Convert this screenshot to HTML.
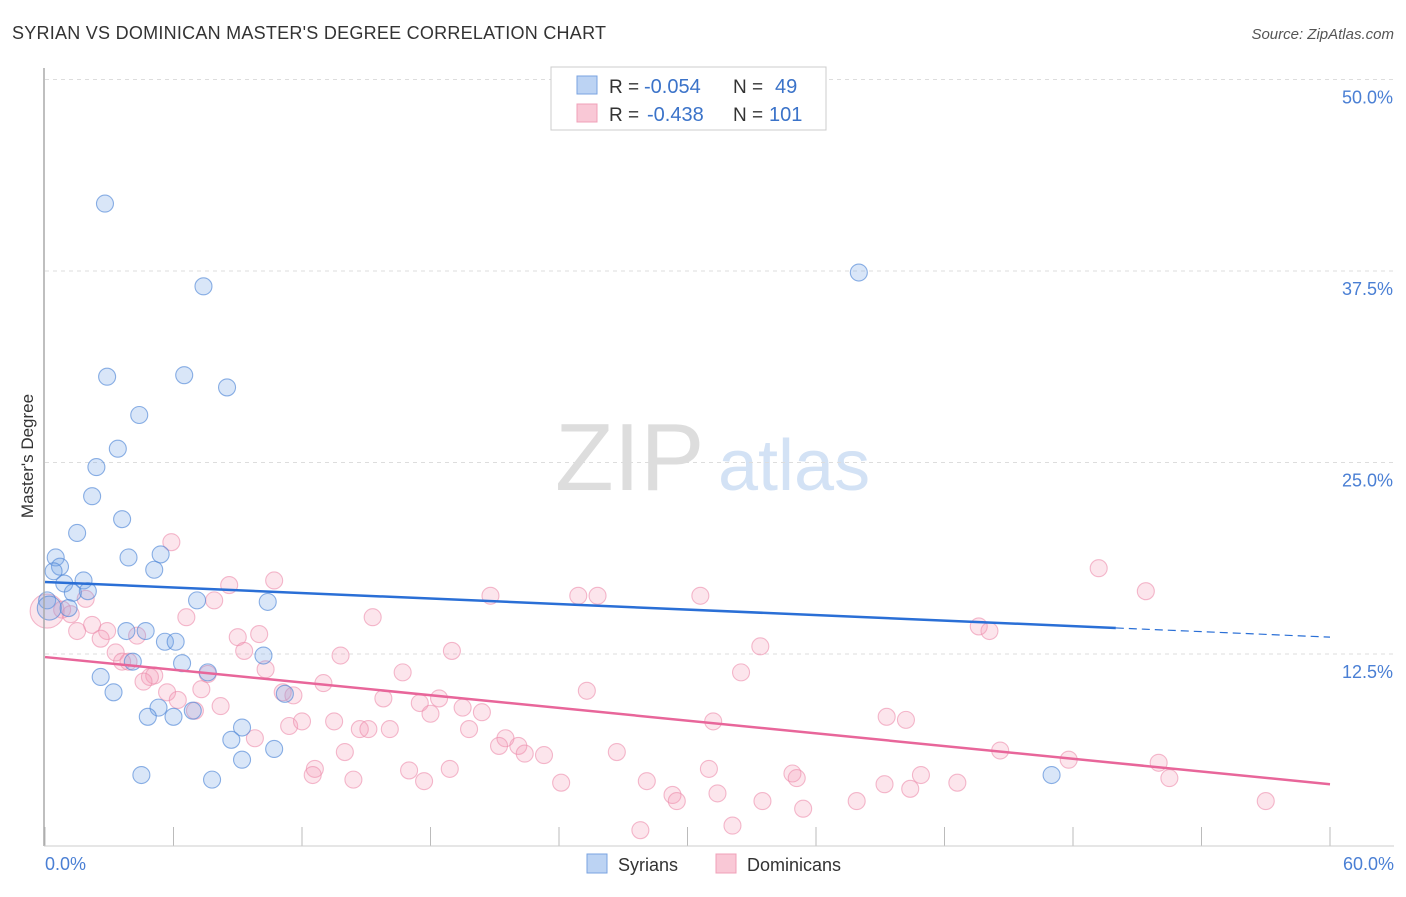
<!DOCTYPE html>
<html><head><meta charset="utf-8"><style>
body{margin:0;background:#fff;font-family:"Liberation Sans",sans-serif;}
svg text{font-family:"Liberation Sans",sans-serif;}
</style></head><body>
<svg width="1406" height="892" id="chart">
<text x="12" y="39" font-size="18" fill="#333" textLength="594">SYRIAN VS DOMINICAN MASTER'S DEGREE CORRELATION CHART</text>
<text x="1394" y="39" font-size="15" fill="#555" font-style="italic" text-anchor="end">Source: ZipAtlas.com</text>
<text x="0" y="0" font-size="17" fill="#333" text-anchor="middle" transform="translate(33,456) rotate(-90)">Master's Degree</text>
<g><text x="555" y="490" font-size="96" fill="#ddd" font-family="Liberation Serif,serif">ZIP</text><text x="718" y="490" font-size="72" fill="#d3e2f5">atlas</text></g>
<g id="grid"></g><g id="ticks"></g><g id="pts"></g><g id="lines"></g>
<line x1="44" y1="68" x2="44" y2="846" stroke="#aaa" stroke-width="1.5"/>
<line x1="44" y1="846" x2="1394" y2="846" stroke="#ccc"/>
<text x="45" y="870" font-size="18" fill="#4a7fd4">0.0%</text>
<text x="1394" y="870" font-size="18" fill="#4a7fd4" text-anchor="end">60.0%</text>
<g>
<rect x="551" y="67" width="275" height="63" fill="#fff" stroke="#ccc"/>
<rect x="577" y="76" width="20" height="18" fill="#bcd3f3" stroke="#7aa3e0"/>
<rect x="577" y="104" width="20" height="18" fill="#f9c8d6" stroke="#f0a0b8"/>
<text x="609" y="93" font-size="19" fill="#333">R =</text><text x="644" y="93" font-size="20" fill="#3b73c9">-0.054</text>
<text x="733" y="93" font-size="19" fill="#333">N =</text><text x="775" y="93" font-size="20" fill="#3b73c9">49</text>
<text x="609" y="121" font-size="19" fill="#333">R =</text><text x="647" y="121" font-size="20" fill="#3b73c9">-0.438</text>
<text x="733" y="121" font-size="19" fill="#333">N =</text><text x="769" y="121" font-size="20" fill="#3b73c9">101</text>
</g>
<g>
<rect x="587" y="854" width="20" height="19" fill="#bcd3f3" stroke="#7aa3e0"/>
<text x="618" y="871" font-size="18" fill="#333">Syrians</text>
<rect x="716" y="854" width="20" height="19" fill="#f9c8d6" stroke="#f0a0b8"/>
<text x="747" y="871" font-size="18" fill="#333">Dominicans</text>
</g>
</svg>
<script>
const yTicks=[12.5,25,37.5,50];
const yTickLabels=["12.5%","25.0%","37.5%","50.0%"];
const xTicks=[0,6,12,18,24,30,36,42,48,54,60];
const syrX=[2.8,7.4,38.0,2.9,6.5,8.5,4.4,3.4,2.4,2.2,3.6,1.5,0.5,3.9,5.4,0.7,0.4,5.1,1.8,0.9,2.0,1.3,0.1,7.1,10.4,1.1,3.8,4.7,5.6,6.1,10.2,6.4,4.1,7.6,2.6,3.2,11.2,5.3,4.8,6.0,6.9,9.2,8.7,10.7,9.2,4.5,7.8,47.0,0.2];
const syrY=[41.9,36.5,37.4,30.6,30.7,29.9,28.1,25.9,24.7,22.8,21.3,20.4,18.8,18.8,19.0,18.2,17.9,18.0,17.3,17.1,16.6,16.5,16.0,16.0,15.9,15.5,14.0,14.0,13.3,13.3,12.4,11.9,12.0,11.3,11.0,10.0,9.9,9.0,8.4,8.4,8.8,7.7,6.9,6.3,5.6,4.6,4.3,4.6,15.5];
const domX=[5.9,10.7,8.6,20.8,24.9,25.8,30.6,49.2,51.4,1.9,0.8,1.2,7.9,6.6,15.3,2.2,1.5,2.9,10.0,4.3,9.0,2.6,43.6,44.1,9.3,33.4,3.3,13.8,19.0,3.6,3.9,5.1,4.9,10.3,16.7,32.5,7.6,4.6,13.0,5.7,7.3,11.1,11.6,25.3,15.8,18.4,6.2,8.2,7.0,17.5,18.0,19.5,20.4,39.3,40.2,11.4,12.0,13.5,14.7,15.1,16.1,19.8,31.2,9.8,21.5,21.2,22.1,22.4,23.3,26.7,14.0,44.6,47.8,52.0,12.6,12.5,17.0,18.9,31.0,14.4,17.7,24.1,28.1,34.9,35.1,39.2,40.4,42.6,40.9,52.5,29.3,29.5,31.4,33.5,35.4,37.9,57.0,27.8,32.1,0.1];
const domY=[19.8,17.3,17.0,16.3,16.3,16.3,16.3,18.1,16.6,16.1,15.4,15.1,16.0,14.9,14.9,14.4,14.0,14.0,13.8,13.7,13.6,13.5,14.3,14.0,12.7,13.0,12.6,12.4,12.7,12.0,12.0,11.1,11.0,11.5,11.3,11.3,11.2,10.7,10.6,10.0,10.2,10.0,9.8,10.1,9.6,9.6,9.5,9.1,8.8,9.3,8.6,9.0,8.7,8.4,8.2,7.8,8.1,8.1,7.6,7.6,7.6,7.6,8.1,7.0,7.0,6.5,6.5,6.0,5.9,6.1,6.1,6.2,5.6,5.4,5.0,4.6,4.9,5.0,5.0,4.3,4.2,4.1,4.2,4.7,4.4,4.0,3.7,4.1,4.6,4.4,3.3,2.9,3.4,2.9,2.4,2.9,2.9,1.0,1.3,15.3];
const domBig=[99];
const blueLine=[17.2,14.2];
const blueDashEnd=13.6;
const pinkLine=[12.3,4.0];
const X=v=>45+v/60*1285, Y=v=>845.5-v*15.32;
const NS="http://www.w3.org/2000/svg";
function mk(t,a,p){const e=document.createElementNS(NS,t);for(const k in a)e.setAttribute(k,a[k]);p.appendChild(e);return e;}
const grid=document.getElementById('grid'),ticks=document.getElementById('ticks'),pts=document.getElementById('pts'),lines=document.getElementById('lines');
yTicks.forEach((v,i)=>{
 const l=mk('line',{x1:45,x2:1394,y1:Y(v),y2:Y(v),stroke:'#ddd','stroke-dasharray':'4,4'},grid);
 
 
 const t=mk('text',{x:1393,y:Y(v)+24,'font-size':18,fill:'#4a7fd4','text-anchor':'end'},grid);t.textContent=yTickLabels[i];
 
 
});
xTicks.forEach(v=>{
 const l=mk('line',{x1:X(v),x2:X(v),y1:827,y2:846,stroke:'#bbb'},ticks);
 
 
});
domX.forEach((x,i)=>{
 const big=domBig.includes(i);
 const c=mk('circle',{cx:X(x),cy:Y(domY[i]),r:big?17:8.5,fill:'rgba(242,150,178,0.25)',stroke:'rgba(236,140,172,0.6)','stroke-width':1.1},pts);
 
 
});
syrX.forEach((x,i)=>{
 const c=mk('circle',{cx:X(x),cy:Y(syrY[i]),r:i==48?12:8.5,fill:'rgba(120,165,230,0.28)',stroke:'rgba(80,135,215,0.65)','stroke-width':1.1},pts);
 
 
});
let b=mk('line',{x1:X(0),y1:Y(blueLine[0]),x2:X(50),y2:Y(blueLine[1]),stroke:'#2a6fd6','stroke-width':2.5},lines);


let bd=mk('line',{x1:X(50),y1:Y(blueLine[1]),x2:X(60),y2:Y(blueDashEnd),stroke:'#2a6fd6','stroke-width':1.2,'stroke-dasharray':'8,5'},lines);


let p=mk('line',{x1:X(0),y1:Y(pinkLine[0]),x2:X(60),y2:Y(pinkLine[1]),stroke:'#e8669a','stroke-width':2.5},lines);


</script>
</body></html>
